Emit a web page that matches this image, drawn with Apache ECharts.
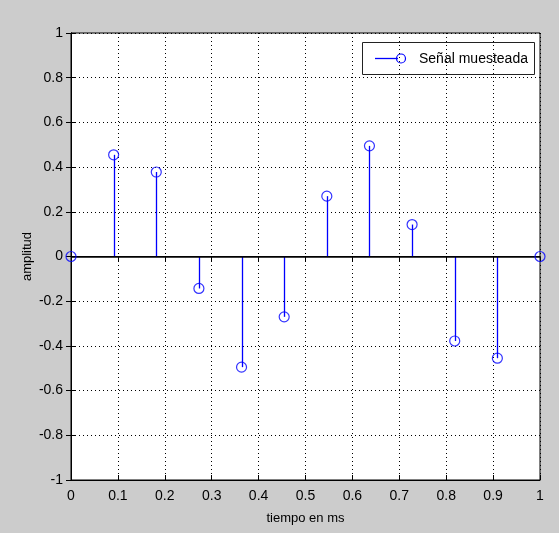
<!DOCTYPE html>
<html>
<head>
<meta charset="utf-8">
<script src="https://cdn.jsdelivr.net/npm/echarts@6/dist/echarts.min.js"></script>
<style>
html,body{margin:0;padding:0;background:#cccccc;}
#chart{width:559px;height:533px;}
</style>
</head>
<body>
<div id="chart"></div>
<script>
var times = [0, 1/11, 2/11, 3/11, 4/11, 5/11, 6/11, 7/11, 8/11, 9/11, 10/11, 1];
var amplitudes = [0, 0.455, 0.378, -0.143, -0.495, -0.27, 0.27, 0.495, 0.143, -0.378, -0.455, 0];
var seriesName = 'Señal muesteada';
var xTitle = 'tiempo en ms';
var yTitle = 'amplitud';

var pts = times.map(function (t, i) { return [t, amplitudes[i]]; });
var FONT = '"Liberation Sans", Arial, sans-serif';
var dotted = { show: true, lineStyle: { color: '#000', width: 1, type: [1, 3] } };

var chart = echarts.init(document.getElementById('chart'));
chart.setOption({
  backgroundColor: '#cccccc',
  animation: false,
  grid: { left: 71, top: 33, right: 19, bottom: 53, show: true, backgroundColor: '#fff', borderColor: '#000', borderWidth: 1 },
  xAxis: [{
    type: 'value', min: 0, max: 1, interval: 0.1,
    axisLine: { show: true, onZero: false, lineStyle: { color: '#000' } },
    axisTick: { show: true, inside: true, length: 5, lineStyle: { color: '#000' } },
    axisLabel: { color: '#000', fontSize: 14, fontFamily: FONT, margin: 9 },
    splitLine: dotted,
    name: xTitle, nameLocation: 'middle', nameGap: 32, nameMoveOverlap: false,
    nameTextStyle: { color: '#000', fontSize: 13, fontFamily: FONT }
  }, {
    type: 'value', min: 0, max: 1, interval: 0.1, position: 'top',
    axisLine: { show: true, lineStyle: { color: '#000' } },
    axisTick: { show: true, inside: true, length: 5, lineStyle: { color: '#000' } },
    axisLabel: { show: false }, splitLine: { show: false }
  }],
  yAxis: [{
    type: 'value', min: -1, max: 1, interval: 0.2,
    axisLine: { show: true, onZero: false, lineStyle: { color: '#000' } },
    axisTick: { show: true, inside: true, length: 5, lineStyle: { color: '#000' } },
    axisLabel: { color: '#000', fontSize: 14, fontFamily: FONT, margin: 8 },
    splitLine: dotted,
    name: yTitle, nameLocation: 'middle', nameGap: 37, nameMoveOverlap: false,
    nameTextStyle: { color: '#000', fontSize: 13, fontFamily: FONT }
  }, {
    type: 'value', min: -1, max: 1, interval: 0.2, position: 'right',
    axisLine: { show: true, lineStyle: { color: '#000' } },
    axisTick: { show: true, inside: true, length: 5, lineStyle: { color: '#000' } },
    axisLabel: { show: false }, splitLine: { show: false }
  }],
  series: [{
    type: 'custom',
    name: seriesName,
    data: pts,
    renderItem: function (params, api) {
      var p0 = api.coord([api.value(0), 0]);
      var p1 = api.coord([api.value(0), api.value(1)]);
      return {
        type: 'line',
        shape: { x1: Math.round(p0[0]) + 0.5, y1: p0[1], x2: Math.round(p1[0]) + 0.5, y2: p1[1] },
        style: { stroke: '#0000ff', lineWidth: 1.3 }
      };
    },
    z: 3
  }, {
    type: 'scatter',
    name: seriesName,
    data: pts,
    symbol: 'circle',
    symbolSize: 10,
    itemStyle: { color: 'rgba(0,0,0,0)', borderColor: '#0000ff', borderWidth: 1.2 },
    z: 5,
    markLine: {
      silent: true, symbol: 'none', animation: false,
      label: { show: false },
      lineStyle: { color: '#000', width: 1.5, type: 'solid' },
      data: [{ yAxis: 0 }],
      z: 4
    }
  }],
  graphic: [{
    type: 'group', left: 362, top: 42,
    children: [
      { type: 'rect', shape: { x: 0.5, y: 0.5, width: 172, height: 32 }, style: { fill: '#fff', stroke: '#222', lineWidth: 1 } },
      { type: 'line', shape: { x1: 13, y1: 16.5, x2: 36, y2: 16.5 }, style: { stroke: '#0000ff', lineWidth: 1.3 } },
      { type: 'circle', shape: { cx: 39, cy: 16.5, r: 4.5 }, style: { fill: 'none', stroke: '#0000ff', lineWidth: 1.2 } },
      { type: 'text', style: { x: 57, y: 17, text: seriesName, fill: '#000', font: '14px ' + FONT, verticalAlign: 'middle' } }
    ]
  }]
});
</script>
</body>
</html>
